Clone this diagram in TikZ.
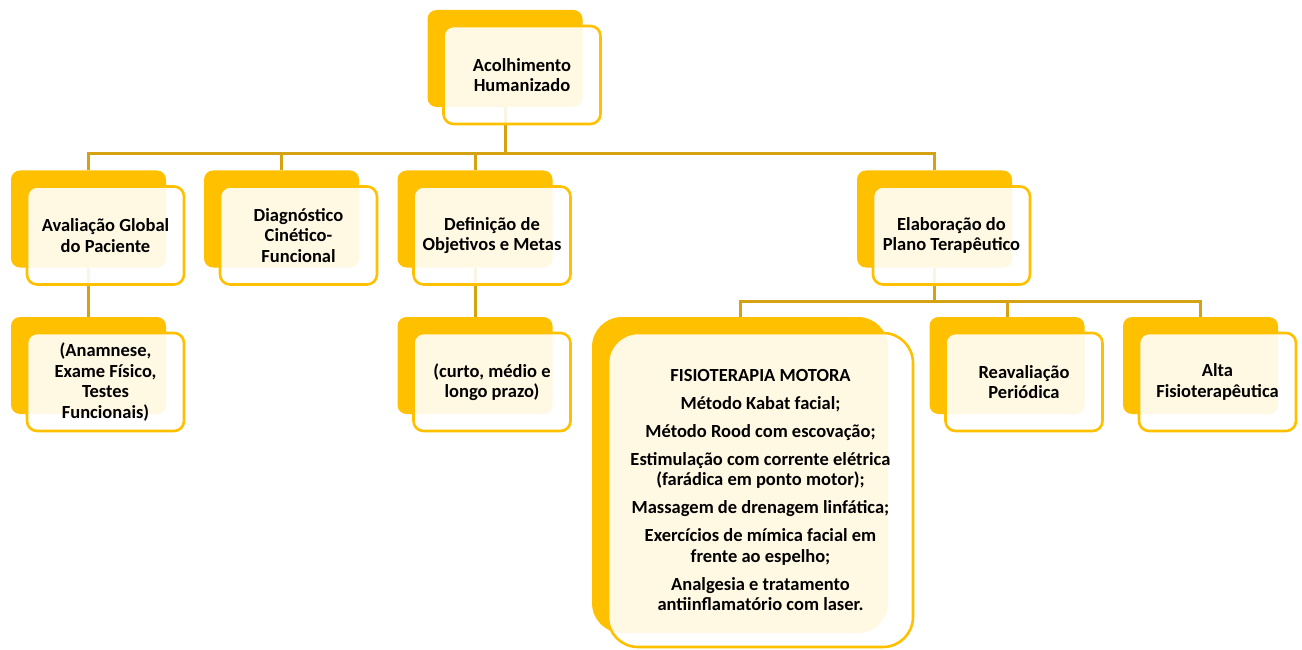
\documentclass[tikz,border=0pt]{standalone}
\usepackage{fontspec}
\setmainfont{Carlito}
\usepackage{tikz}
\usetikzlibrary{positioning,backgrounds}
\definecolor{gold}{HTML}{FFC000}
\definecolor{linegold}{RGB}{212,162,18}
\tikzset{back box/.style={fill=gold,rounded corners=9pt,minimum width=155pt,minimum height=97pt,inner sep=0pt},
	front box/.style={draw=gold,line width=2.6pt,fill=white,fill opacity=.89,text opacity=1,rounded corners=10pt,minimum width=157pt,minimum height=98pt,inner sep=1pt,align=center,font=\bfseries\fontsize{18.5}{20.5}\selectfont,xshift=17pt,yshift=-16.5pt},
	link/.style={draw=linegold,line width=3pt},}

\begin{document}
\begin{tikzpicture}[x=1pt,y=-1pt]
	\useasboundingbox (0,0) rectangle (1302,650);
	% top
	\node[back box] (acolB) at (505,58.5) {};
	\node[front box] (acol) at (acolB) {Acolhimento\\Humanizado};
	
	% second row
	\node[back box] (avalB) at (88.5,219) {};
	\node[front box] (aval) at (avalB) {Avaliação Global\\do Paciente};
	\node[back box] (diagB) at (281.5,219) {};
	\node[front box] (diag) at (diagB) {Diagnóstico\\Cinético-\\Funcional};
	\node[back box] (defB) at (475,219) {};
	\node[front box] (def) at (defB) {Definição de\\Objetivos e Metas};
	\node[back box] (elabB) at (934.5,219) {};
	\node[front box] (elab) at (elabB) {Elaboração do\\Plano Terapêutico};
	
	% third row
	\node[back box] (anamB) at (88.5,365.5) {};
	\node[front box] (anam) at (anamB) {(Anamnese,\\Exame Físico,\\Testes\\Funcionais)};
	\node[back box] (prazoB) at (475,365.5) {};
	\node[front box] (prazo) at (prazoB) {(curto, médio e\\longo prazo)};
	\node[back box,minimum width=296pt,minimum height=316pt,rounded corners=30pt] (fisioB) at (740,475) {};
	\node[front box,minimum width=305pt,minimum height=314pt,rounded corners=30pt,xshift=3.5pt,yshift=1.5pt] (fisio) at (fisioB) {FISIOTERAPIA MOTORA\\[7.5pt]
		Método Kabat facial;\\[7.5pt]
		Método Rood com escovação;\\[7.5pt]
		Estimulação com corrente elétrica\\(farádica em ponto motor);\\[7.5pt]
		Massagem de drenagem linfática;\\[7.5pt]
		Exercícios de mímica facial em\\frente ao espelho;\\[7.5pt]
		Analgesia e tratamento\\antiinflamatório com laser.};
	\node[back box] (reavB) at (1007,365.5) {};
	\node[front box] (reav) at (reavB) {Reavaliação\\Periódica};
	\node[back box] (altaB) at (1200.5,365.5) {};
	\node[front box] (alta) at (altaB) {Alta\\Fisioterapêutica};
	
	\begin{pgfonlayer}{background}
	\coordinate (bus1) at (505,153.5);
	\coordinate (bus2) at (934.5,301);
	\path[link]
	(acolB.south) -- (bus1)
	(bus1) -| (avalB.north)
	(bus1) -| (diagB.north)
	(bus1) -| (defB.north)
	(bus1) -| (elabB.north)
	(avalB.south) -- (anamB.north)
	(defB.south) -- (prazoB.north)
	(elabB.south) -- (bus2)
	(bus2) -| (fisioB.north)
	(bus2) -| (reavB.north)
	(bus2) -| (altaB.north)
	;
	\end{pgfonlayer}
\end{tikzpicture}
\end{document}
